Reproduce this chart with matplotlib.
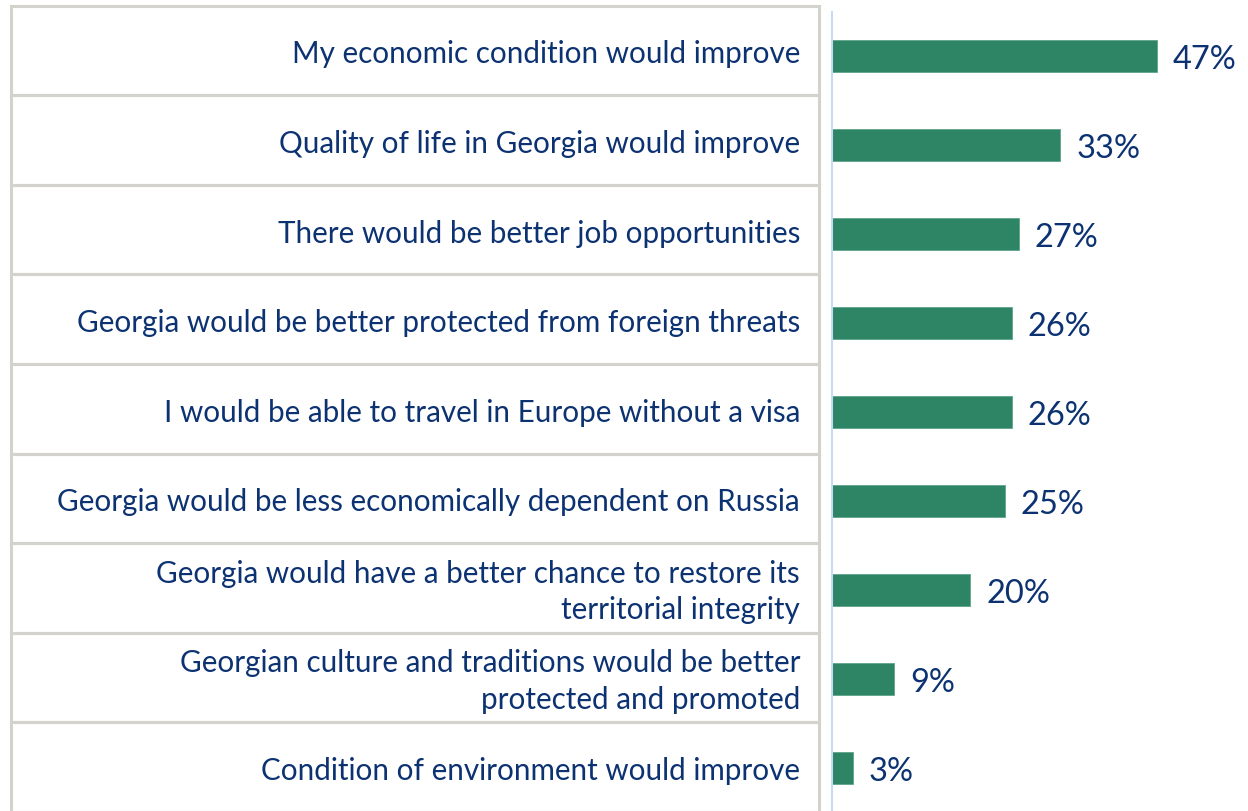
import matplotlib
matplotlib.use("Agg")
import matplotlib.pyplot as plt
from matplotlib.patches import Rectangle

categories = [
    "My economic condition would improve",
    "Quality of life in Georgia would improve",
    "There would be better job opportunities",
    "Georgia would be better protected from foreign threats",
    "I would be able to travel in Europe without a visa",
    "Georgia would be less economically dependent on Russia",
    "Georgia would have a better chance to restore its\nterritorial integrity",
    "Georgian culture and traditions would be better\nprotected and promoted",
    "Condition of environment would improve",
]
values = [47, 33, 27, 26, 26, 25, 20, 9, 3]
value_labels = ["47%", "33%", "27%", "26%", "26%", "25%", "20%", "9%", "3%"]

W, H = 1248, 811
fig = plt.figure(figsize=(W / 100, H / 100), dpi=100)
fig.patch.set_facecolor("white")

TEXT = "#0c3272"
BAR = "#2e8565"
FONT = "Lato"

# Left label boxes in pixel coordinates
axl = fig.add_axes([0, 0, 1, 1])
axl.set_xlim(0, W)
axl.set_ylim(H, 0)
axl.axis("off")
top0 = 5.5
step = 89.6
for i, lab in enumerate(categories):
    y0 = top0 + i * step
    axl.add_patch(Rectangle((11, y0), 808, step, fill=False,
                            edgecolor="#d3d2cd", linewidth=2.2))
    axl.text(800, y0 + step / 2 + 4, lab, ha="right", va="center",
             fontsize=21.3, color=TEXT, family=FONT, linespacing=1.35)

# Bar axes
x0 = 832
ax = fig.add_axes([x0 / W, 0, (W - x0) / W, 1 - 12 / H])
ax.set_facecolor("none")
px_per = (1157 - x0) / 47.0
ax.set_xlim(0, (W - x0) / px_per)
top_px = 12
ax.set_ylim((H - 56) / 89.0, -(56 - top_px) / 89.0)
ypos = list(range(len(values)))
ax.barh(ypos, values, height=0.36, color=BAR, edgecolor="#5fa58a", linewidth=0.6)
for y, v, t in zip(ypos, values, value_labels):
    ax.text(v + 16 / px_per, y + 0.04, t, ha="left", va="center",
            fontsize=23.5, color=TEXT, family=FONT)
for s in ["top", "right", "bottom"]:
    ax.spines[s].set_visible(False)
ax.spines["left"].set_color("#c5dbf3")
ax.spines["left"].set_linewidth(1.5)
ax.set_xticks([])
ax.set_yticks([])

fig.savefig("out.png", dpi=100, facecolor="white")
